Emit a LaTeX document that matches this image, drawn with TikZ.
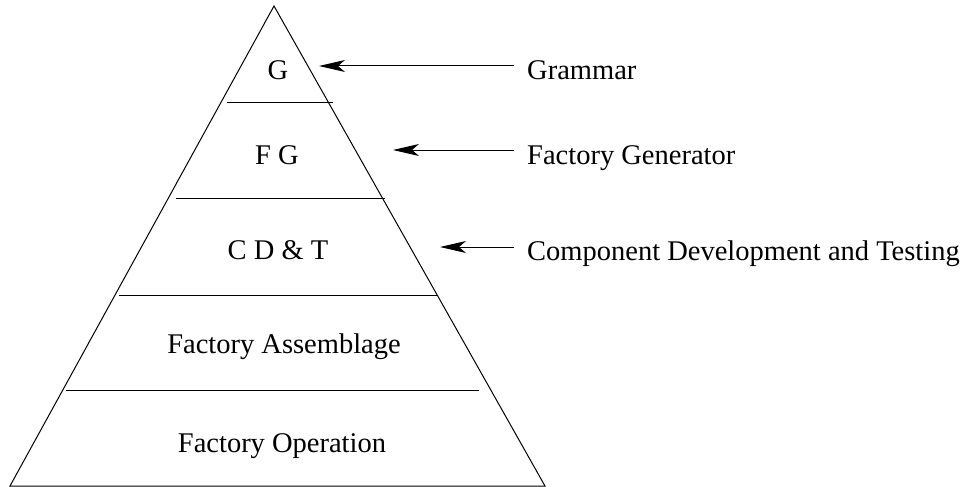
\documentclass[tikz,border=0pt]{standalone}
\usepackage{fontspec}
\setmainfont{Liberation Serif}
\usetikzlibrary{arrows.meta}
\begin{document}
\begin{tikzpicture}[x=1pt,y=-1pt,
  edge/.style={line width=1pt},
  layer/.style={font=\fontsize{28.5}{32}\selectfont, inner sep=0pt, anchor=base},
  lbl/.style={font=\fontsize{28.5}{32}\selectfont, anchor=base west, inner ysep=0pt, inner xsep=13pt},
  pointer/.style={line width=1pt, -{Stealth[length=26pt,width=12pt,inset=7pt]}}]
\useasboundingbox (0,0) rectangle (969,487);
\coordinate (apex) at (274,6);
\coordinate (bl) at (10,486);
\coordinate (br) at (545,486);
\draw[edge] (apex) -- (bl) -- (br) -- cycle;
\coordinate (l1a) at (227,102); \coordinate (l1b) at (333,102);
\coordinate (l2a) at (176,198); \coordinate (l2b) at (385,198);
\coordinate (l3a) at (119,295); \coordinate (l3b) at (437,295);
\coordinate (l4a) at (66,390);  \coordinate (l4b) at (479,390);
\draw[edge] (l1a) -- (l1b);
\draw[edge] (l2a) -- (l2b);
\draw[edge] (l3a) -- (l3b);
\draw[edge] (l4a) -- (l4b);
\node[layer] (g) at (278,79) {G};
\node[layer] (fg) at (277,164) {F G};
\node[layer] (cdt) at (278,259) {C D \& T};
\node[layer] (fa) at (284,353) {Factory Assemblage};
\node[layer] (fo) at (282,452) {Factory Operation};
\node[lbl] (gram) at (514,79) {Grammar};
\node[lbl] (fgen) at (514,164) {Factory Generator};
\node[lbl] (comp) at (514,260) {Component Development and Testing};
\coordinate (tg) at (319,66);
\coordinate (tf) at (393,150);
\coordinate (tc) at (440,247);
\draw[pointer] (gram.west |- tg) -- (tg);
\draw[pointer] (fgen.west |- tf) -- (tf);
\draw[pointer] (comp.west |- tc) -- (tc);
\end{tikzpicture}
\end{document}
